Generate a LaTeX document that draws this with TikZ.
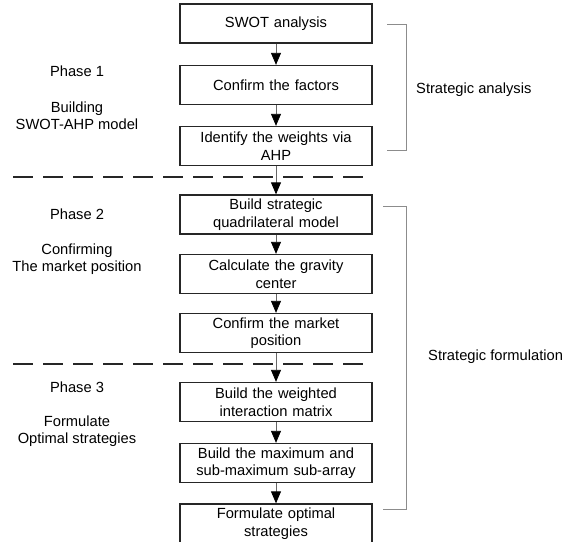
\documentclass[tikz,border=0pt]{standalone}
\usepackage{fontspec}
\setmainfont{Liberation Sans}
\usetikzlibrary{arrows.meta}
\begin{document}
\begin{tikzpicture}[x=1pt,y=-1pt,
  every node/.style={font=\fontsize{14.7}{17.5}\selectfont, inner sep=0pt},
  stepbox/.style={draw=black!85, line width=1.3pt, minimum width=192pt, minimum height=39pt, text width=185pt, align=center},
  flow/.style={draw=black!60, line width=0.8pt, -{Triangle[width=10pt,length=12pt,color=black]}},
  sep/.style={draw=black!85, line width=1.3pt, dash pattern=on 20pt off 10pt},
  brace/.style={draw=black!45, line width=0.9pt},
  phase/.style={align=center}]
\useasboundingbox (0,0) rectangle (572,541);
\fill[white] (0,0) rectangle (572,541);
% boxes
\node[stepbox] (b1) at (276,23.5) {SWOT analysis};
\node[stepbox] (b2) at (276,85) {Confirm the factors};
\node[stepbox] (b3) at (276,146) {Identify the weights via\\AHP};
\node[stepbox] (b4) at (276,214.5) {Build strategic\\quadrilateral model};
\node[stepbox] (b5) at (276,274) {Calculate the gravity\\center};
\node[stepbox] (b6) at (276,333) {Confirm the market\\position};
\node[stepbox] (b7) at (276,402) {Build the weighted\\interaction matrix};
\node[stepbox] (b8) at (276,463) {Build the maximum and\\sub-maximum sub-array};
\node[stepbox] (b9) at (276,523.5) {Formulate optimal\\strategies};
% arrows
\foreach \a/\b in {b1/b2,b2/b3,b3/b4,b4/b5,b5/b6,b6/b7,b7/b8,b8/b9}
  \draw[flow] (\a.south) -- (\b.north);
% separators
\coordinate (s1l) at (13,177); \coordinate (s1r) at (372,177);
\coordinate (s2l) at (13,364); \coordinate (s2r) at (372,364);
\draw[sep] (s1l) -- (s1r);
\draw[sep] (s2l) -- (s2r);
% phase labels
\node[phase] (p1) at (77,71) {Phase 1};
\node[phase] (p1t) at (77,115.5) {Building\\SWOT-AHP model};
\node[phase] (p2) at (77,214) {Phase 2};
\node[phase] (p2t) at (77,259) {Confirming\\The market position};
\node[phase] (p3) at (77,387) {Phase 3};
\node[phase] (p3t) at (77,431) {Formulate\\Optimal strategies};
% brackets
\draw[brace] (387,24) -- (406,24) -- (406,150) -- (387,150);
\draw[brace] (383,206) -- (406,206) -- (406,509) -- (383,509);
\node[anchor=west] (sa) at (416,90) {Strategic analysis};
\node[anchor=west] (sf) at (428,357) {Strategic formulation};
\end{tikzpicture}
\end{document}
